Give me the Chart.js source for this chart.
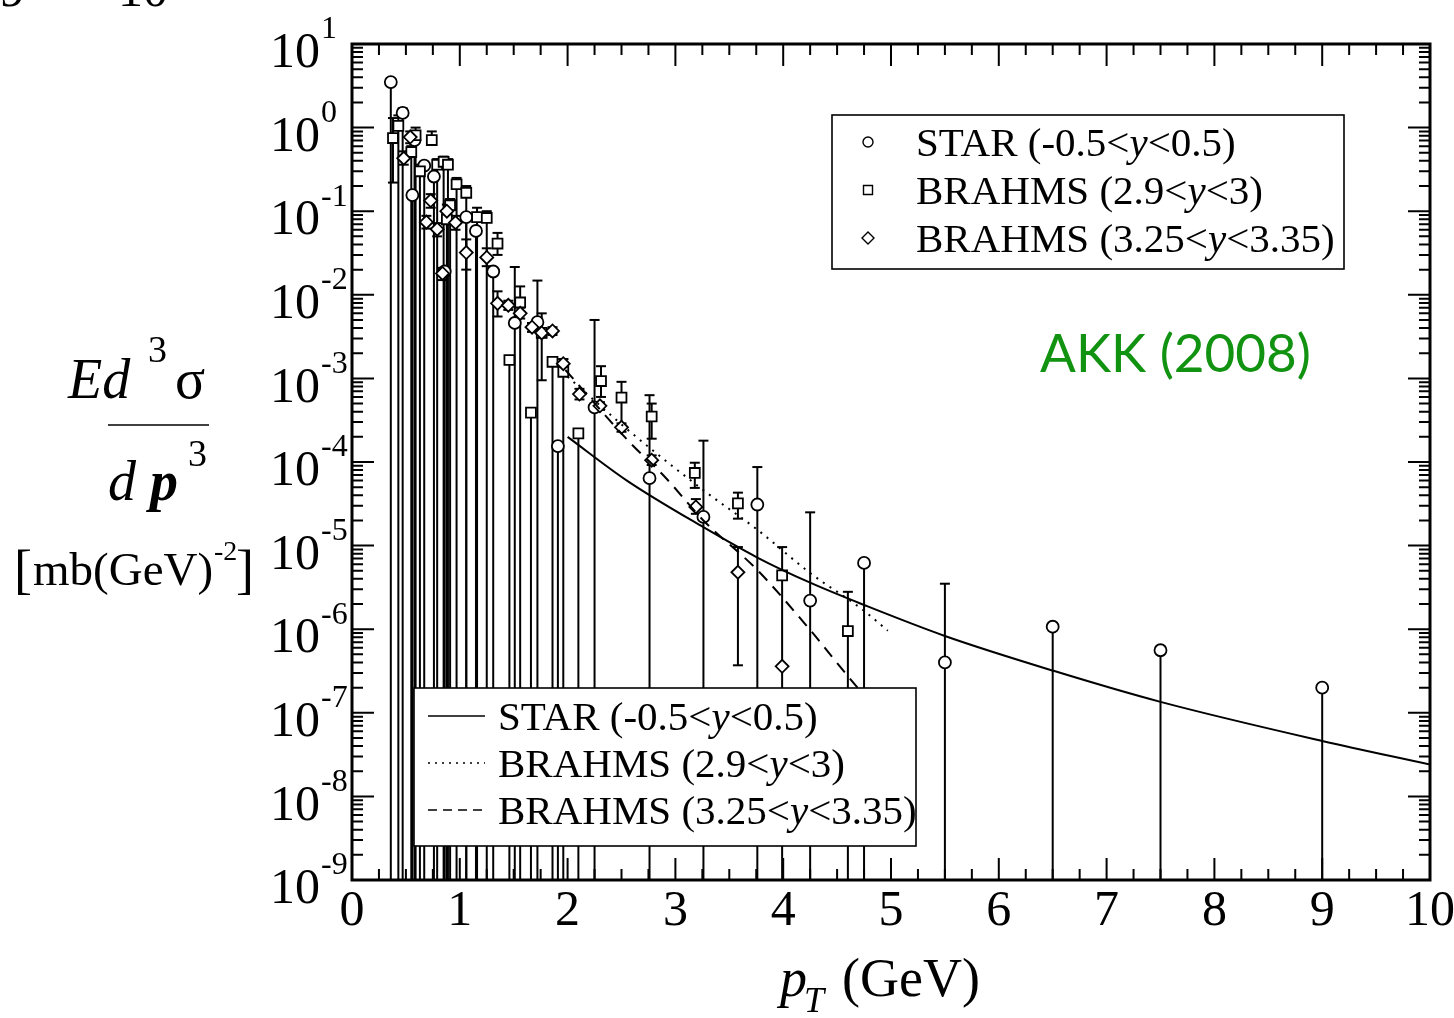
<!DOCTYPE html>
<html>
<head>
<meta charset="utf-8">
<script src="https://cdn.jsdelivr.net/npm/chart.js@4.4.0/dist/chart.umd.min.js"></script>
<style>
  html, body { margin: 0; padding: 0; background: #fff; }
  #wrap { width: 1454px; height: 1018px; }
</style>
</head>
<body>
<div id="wrap"><canvas id="spectrum" width="1454" height="1018"></canvas></div>
<script>
// axis ticks
const xTicks = [0, 1, 2, 3, 4, 5, 6, 7, 8, 9, 10];
const yExponents = [1, 0, -1, -2, -3, -4, -5, -6, -7, -8, -9];

// STAR (-0.5<y<0.5) data, lower error 0 = drops below axis
const starPt  = [0.36, 0.47, 0.56, 0.58, 0.67, 0.76, 0.86, 1.06, 1.15, 1.31, 1.51, 1.72, 1.91, 2.25, 2.76, 3.26, 3.76, 4.25, 4.75, 5.5, 6.5, 7.5, 9.0];
const starVal = [3.5, 1.5, 0.156, 0.71, 0.35, 0.26, 0.019, 0.085, 0.058, 0.019, 0.0046, 0.0047, 1.55e-4, 4.5e-4, 6.4e-5, 2.2e-5, 3.1e-5, 2.2e-6, 6.2e-6, 4.0e-7, 1.07e-6, 5.6e-7, 2.0e-7];
const starHi  = [3.5, 1.7, 0.156, 0.71, 0.35, 0.26, 0.019, 0.085, 0.058, 0.019, 0.0215, 0.0148, 1.55e-4, 5e-3, 6.3e-4, 1.8e-4, 8.7e-5, 2.5e-5, 6.2e-6, 3.5e-6, 1.07e-6, 5.6e-7, 2.0e-7];
const starLo  = [0, 0, 0, 0, 0, 0, 0, 0, 0, 0, 0, 0, 0, 0, 0, 0, 0, 0, 0, 0, 0, 0, 0];

// BRAHMS (2.9<y<3)
const brA_Pt  = [0.38, 0.43, 0.55, 0.59, 0.63, 0.74, 0.79, 0.85, 0.88, 0.89, 0.91, 0.97, 1.06, 1.16, 1.25, 1.35, 1.46, 1.56, 1.66, 1.76, 1.86, 1.96, 2.10, 2.31, 2.50, 2.78, 3.18, 3.58, 3.99, 4.60];
const brA_Val = [0.75, 1.05, 0.51, 0.81, 0.30, 0.71, 0.36, 0.39, 0.08, 0.36, 0.118, 0.21, 0.166, 0.085, 0.083, 0.041, 1.66e-3, 8.1e-3, 3.9e-4, 3.5e-3, 1.58e-3, 1.2e-3, 2.2e-4, 9.3e-4, 5.9e-4, 3.5e-4, 7.4e-5, 3.2e-5, 4.4e-6, 9.5e-7];
const brA_Hi  = [1.3, 1.4, 0.6, 1.0, 0.36, 0.9, 0.42, 0.45, 0.1, 0.42, 0.14, 0.25, 0.2, 0.11, 0.1, 0.055, 1.66e-3, 0.0126, 3.9e-4, 6e-3, 1.58e-3, 1.7e-3, 2.2e-4, 1.4e-3, 9.1e-4, 5e-4, 9.8e-5, 4.3e-5, 9.6e-6, 2.8e-6];
const brA_Lo  = [0.22, 0, 0, 0, 0, 0.62, 0, 0, 0, 0, 0, 0, 0, 0, 0, 0.03, 0, 0, 0, 9.5e-4, 0, 0, 0, 6e-4, 2.6e-4, 1.9e-4, 4.9e-5, 2.1e-5, 0, 0];

// BRAHMS (3.25<y<3.35)
const brB_Pt  = [0.48, 0.54, 0.69, 0.73, 0.79, 0.84, 0.88, 0.96, 1.06, 1.25, 1.35, 1.45, 1.56, 1.67, 1.76, 1.86, 1.96, 2.11, 2.30, 2.50, 2.78, 3.19, 3.58, 3.99];
const brB_Val = [0.43, 0.77, 0.074, 0.134, 0.061, 0.018, 0.1, 0.073, 0.032, 0.028, 7.9e-3, 7.5e-3, 6e-3, 4.1e-3, 3.5e-3, 3.7e-3, 1.5e-3, 6.5e-4, 4.7e-4, 2.6e-4, 1.05e-4, 2.9e-5, 4.8e-6, 3.6e-7];
const brB_Hi  = [0.52, 0.9, 0.088, 0.16, 0.072, 0.021, 0.12, 0.088, 0.046, 0.036, 0.011, 8.5e-3, 7e-3, 4.6e-3, 3.9e-3, 4.1e-3, 1.7e-3, 7.5e-4, 5.2e-4, 2.9e-4, 1.2e-4, 3.6e-5, 9.6e-6, 3.6e-7];
const brB_Lo  = [0.36, 0.65, 0.062, 0.11, 0.05, 0.015, 0.085, 0.06, 0.020, 0.022, 5.5e-3, 6.6e-3, 5.2e-3, 3.6e-3, 3.1e-3, 3.3e-3, 1.3e-3, 5.6e-4, 4.2e-4, 2.3e-4, 9.2e-5, 2.4e-5, 3.7e-7, 3.6e-7];

// AKK (2008) curves
const fitStarPt  = [2.0, 2.55, 3.26, 3.76, 4.25, 4.75, 5.5, 6.5, 7.5, 9.0, 10.0];
const fitStarVal = [2.0e-4, 6.0e-5, 1.66e-5, 7.2e-6, 3.6e-6, 1.95e-6, 8.3e-7, 3.2e-7, 1.35e-7, 4.6e-8, 2.4e-8];
const fitBrA_Pt  = [2.0, 2.58, 3.26, 3.76, 4.25, 4.74, 4.97];
const fitBrA_Val = [1.05e-3, 2.3e-4, 4.6e-5, 1.55e-5, 4.7e-6, 1.7e-6, 9.6e-7];
const fitBrB_Pt  = [1.98, 2.58, 2.89, 3.26, 3.76, 4.25, 4.69, 4.75];
const fitBrB_Val = [1.26e-3, 1.7e-4, 6.9e-5, 2.0e-5, 5.1e-6, 9.8e-7, 2.0e-7, 1.65e-7];

const SERIF = "'Liberation Serif', 'DejaVu Serif', serif";

function pts(xs, ys) {
    return xs.map((x, i) => ({ x: x, y: ys[i] }));
}

function marker(label, xs, ys, hi, lo, style, r) {
    return {
        label: label,
        data: pts(xs, ys),
        errHi: hi,
        errLo: lo,
        showLine: false,
        pointStyle: style,
        pointRadius: r,
        backgroundColor: "#fff",
        borderColor: "#000",
        borderWidth: 1.8,
    };
}

function curve(label, xs, ys, dash) {
    return {
        label: label,
        type: "line",
        data: pts(xs, ys),
        showLine: true,
        pointRadius: 0,
        borderColor: "#000",
        borderWidth: 2,
        borderDash: dash,
        cubicInterpolationMode: "monotone",
        fill: false,
    };
}

// error bars go under the markers
const errorBars = {
    id: "errorBars",
    beforeDatasetsDraw(chart) {
        const { ctx, chartArea, scales: { x, y } } = chart;
        ctx.save();
        ctx.beginPath();
        ctx.rect(chartArea.left, chartArea.top, chartArea.width, chartArea.height);
        ctx.clip();
        ctx.strokeStyle = "#000";
        ctx.lineWidth = 2;
        chart.data.datasets.forEach((ds) => {
            if (!ds.errHi) return;
            ds.data.forEach((p, i) => {
                const px = x.getPixelForValue(p.x);
                const top = y.getPixelForValue(ds.errHi[i]);
                const bot = ds.errLo[i] > 0 ? y.getPixelForValue(ds.errLo[i]) : chartArea.bottom;
                ctx.beginPath();
                ctx.moveTo(px, top);
                ctx.lineTo(px, bot);
                ctx.stroke();
                if (ds.errHi[i] > p.y) {
                    ctx.beginPath(); ctx.moveTo(px - 5, top); ctx.lineTo(px + 5, top); ctx.stroke();
                }
                if (ds.errLo[i] > 0 && ds.errLo[i] < p.y) {
                    ctx.beginPath(); ctx.moveTo(px - 5, bot); ctx.lineTo(px + 5, bot); ctx.stroke();
                }
            });
        });
        ctx.restore();
    },
};

function drawMarker(ctx, style, cx, cy) {
    ctx.beginPath();
    if (style === "circle") ctx.arc(cx, cy, 5, 0, Math.PI * 2);
    else if (style === "rect") ctx.rect(cx - 4.5, cy - 4.5, 9, 9);
    else { ctx.moveTo(cx, cy - 6); ctx.lineTo(cx + 6, cy); ctx.lineTo(cx, cy + 6); ctx.lineTo(cx - 6, cy); ctx.closePath(); }
    ctx.stroke();
}

function legendText(ctx, parts, x, y) {
    // parts: [text, italic]
    parts.forEach(([t, it]) => {
        ctx.font = (it ? "italic " : "") + "41px " + SERIF;
        ctx.fillText(t, x, y);
        x += ctx.measureText(t).width;
    });
}

const starLabel = [["STAR (-0.5<", false], ["y", true], ["<0.5)", false]];
const brALabel = [["BRAHMS (2.9<", false], ["y", true], ["<3)", false]];
const brBLabel = [["BRAHMS (3.25<", false], ["y", true], ["<3.35)", false]];

const frame = {
    id: "frame",
    afterDraw(chart) {
        const { ctx, chartArea: a, scales: { x, y } } = chart;
        ctx.save();
        ctx.strokeStyle = "#000";
        ctx.fillStyle = "#000";

        // ticks, inside on all four sides
        ctx.lineWidth = 2;
        for (let v = 0; v <= 10.001; v += 0.25) {
            const px = x.getPixelForValue(v);
            const len = Math.abs(v - Math.round(v)) < 1e-6 ? 22 : 11;
            ctx.beginPath();
            ctx.moveTo(px, a.bottom); ctx.lineTo(px, a.bottom - len);
            ctx.moveTo(px, a.top); ctx.lineTo(px, a.top + len);
            ctx.stroke();
        }
        yExponents.forEach((e) => {
            for (let m = 1; m <= 9; m++) {
                const v = m * Math.pow(10, e);
                if (v > 10.0001) continue;
                const py = y.getPixelForValue(v);
                const len = m === 1 ? 22 : 11;
                ctx.beginPath();
                ctx.moveTo(a.left, py); ctx.lineTo(a.left + len, py);
                ctx.moveTo(a.right, py); ctx.lineTo(a.right - len, py);
                ctx.stroke();
            }
        });
        ctx.lineWidth = 3;
        ctx.strokeRect(a.left, a.top, a.width, a.height);

        // tick labels
        ctx.textBaseline = "middle";
        ctx.textAlign = "center";
        ctx.font = "50px " + SERIF;
        xTicks.forEach((t) => ctx.fillText(String(t), x.getPixelForValue(t), 912));
        yExponents.forEach((e) => {
            const py = y.getPixelForValue(Math.pow(10, e));
            ctx.textAlign = "right";
            ctx.font = "50px " + SERIF;
            ctx.fillText("10", 320, py + 10);
            ctx.textAlign = "left";
            ctx.font = "32px " + SERIF;
            ctx.fillText(String(e), 321, py - 14);
        });

        // axis titles
        ctx.textBaseline = "alphabetic";
        ctx.textAlign = "left";
        ctx.font = "italic 54px " + SERIF;
        ctx.fillText("p", 780, 996);
        ctx.font = "italic 36px " + SERIF;
        ctx.fillText("T", 804, 1012);
        ctx.font = "54px " + SERIF;
        ctx.fillText("(GeV)", 842, 996);

        ctx.font = "italic 56px " + SERIF;
        ctx.fillText("Ed", 68, 398);
        ctx.font = "38px " + SERIF;
        ctx.fillText("3", 148, 362);
        ctx.font = "56px " + SERIF;
        ctx.fillText("σ", 175, 398);
        ctx.lineWidth = 1.5;
        ctx.beginPath(); ctx.moveTo(108, 425); ctx.lineTo(209, 425); ctx.stroke();
        ctx.font = "italic 56px " + SERIF;
        ctx.fillText("d", 108, 500);
        ctx.font = "italic bold 56px " + SERIF;
        ctx.fillText("p", 150, 500);
        ctx.font = "38px " + SERIF;
        ctx.fillText("3", 188, 466);
        ctx.font = "54px " + SERIF;
        ctx.fillText("[", 14, 588);
        ctx.font = "47px " + SERIF;
        ctx.fillText("mb(GeV)", 33, 585);
        ctx.font = "28px " + SERIF;
        ctx.fillText("-2", 214, 560);
        ctx.font = "54px " + SERIF;
        ctx.fillText("]", 236, 588);

        // clipped line from the slide above
        ctx.font = "50px " + SERIF;
        ctx.fillText("9", 0, 6);
        ctx.fillText("10", 118, 6);

        // model label
        ctx.font = "53px Lato, 'Open Sans', sans-serif";
        ctx.fillStyle = "#119311";
        ctx.fillText("AKK (2008)", 1040, 372);
        ctx.fillStyle = "#000";

        // data legend (top right)
        ctx.lineWidth = 1.6;
        ctx.fillStyle = "#fff";
        ctx.fillRect(832, 115, 512, 154);
        ctx.strokeRect(832, 115, 512, 154);
        ctx.fillStyle = "#000";
        ctx.lineWidth = 1.4;
        drawMarker(ctx, "circle", 868, 142);
        drawMarker(ctx, "rect", 868, 190);
        drawMarker(ctx, "rectRot", 868, 238);
        legendText(ctx, starLabel, 916, 156);
        legendText(ctx, brALabel, 916, 204);
        legendText(ctx, brBLabel, 916, 252);

        // curve legend (bottom left)
        ctx.lineWidth = 1.6;
        ctx.fillStyle = "#fff";
        ctx.fillRect(414, 688, 502, 158);
        ctx.strokeRect(414, 688, 502, 158);
        ctx.fillStyle = "#000";
        ctx.lineWidth = 1.6;
        [[716, []], [763, [2, 5]], [810, [9, 6]]].forEach(([ly, dash]) => {
            ctx.setLineDash(dash);
            ctx.beginPath(); ctx.moveTo(428, ly); ctx.lineTo(485, ly); ctx.stroke();
        });
        ctx.setLineDash([]);
        legendText(ctx, starLabel, 498, 730);
        legendText(ctx, brALabel, 498, 777);
        legendText(ctx, brBLabel, 498, 824);

        ctx.restore();
    },
};

document.addEventListener("DOMContentLoaded", () => {
    const el = document.getElementById("spectrum");
    new Chart(el, {
        type: "scatter",
        data: {
            datasets: [
                curve("STAR AKK", fitStarPt, fitStarVal, []),
                curve("BRAHMS 2.9 AKK", fitBrA_Pt, fitBrA_Val, [2, 6]),
                curve("BRAHMS 3.25 AKK", fitBrB_Pt, fitBrB_Val, [12, 8]),
                marker("BRAHMS (3.25<y<3.35)", brB_Pt, brB_Val, brB_Hi, brB_Lo, "rectRot", 6.5),
                marker("BRAHMS (2.9<y<3)", brA_Pt, brA_Val, brA_Hi, brA_Lo, "rect", 7),
                marker("STAR (-0.5<y<0.5)", starPt, starVal, starHi, starLo, "circle", 6),
            ],
        },
        options: {
            responsive: false,
            animation: false,
            layout: { padding: { left: 352, right: 24, top: 44, bottom: 138 } },
            scales: {
                x: { type: "linear", min: 0, max: 10, display: false },
                y: { type: "logarithmic", min: 1e-9, max: 10, display: false },
            },
            plugins: {
                legend: { display: false },
                tooltip: { enabled: false },
            },
        },
        plugins: [errorBars, frame],
    });
});
</script>
</body>
</html>
